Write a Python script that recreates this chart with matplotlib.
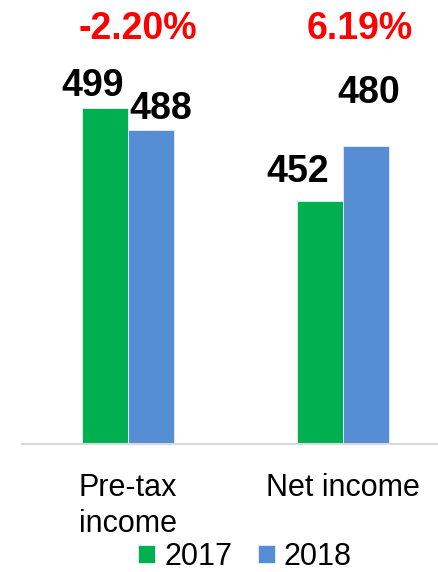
import matplotlib
matplotlib.use("Agg")
from matplotlib import pyplot as plt
import numpy as np

plt.rcParams['font.family'] = ['Liberation Sans', 'DejaVu Sans']

categories = ["Pre-tax\nincome", "Net income"]
years = ["2017", "2018"]
values_2017 = [499, 452]
values_2018 = [488, 480]
changes = ["-2.20%", "6.19%"]

# label offsets (points) relative to bar top centre, as in the original
offsets_2017 = [(-9, 3), (-16, 8)]
offsets_2018 = [(7, 2), (2, 25)]

green = "#00B050"
blue = "#558ED5"

W, H = 438, 572
fig = plt.figure(figsize=(W / 100, H / 100), dpi=100)
ax = fig.add_axes([22 / W, (H - 444) / H, (438 - 22) / W, (444 - 20) / H])

x = np.arange(len(categories))
w = 0.214
b1 = ax.bar(x - w / 2, values_2017, w, color=green, edgecolor="#e8f5ec", linewidth=0.6, label=years[0])
b2 = ax.bar(x + w / 2, values_2018, w, color=blue, edgecolor="#e6eef9", linewidth=0.6, label=years[1])

ax.set_ylim(330, 330 + (444 - 20) / 1.988)
ax.set_xlim(-0.493, 1.442)

for bars, vals, offs in [(b1, values_2017, offsets_2017), (b2, values_2018, offsets_2018)]:
    for r, v, o in zip(bars, vals, offs):
        ax.annotate(str(v), (r.get_x() + r.get_width() / 2, r.get_height()),
                    xytext=o, textcoords="offset points", ha="center", va="bottom",
                    fontsize=27, fontweight="bold", color="black")

for xi, c, dx in zip(x, changes, [10, 17]):
    ax.annotate(c, (xi, 1), xycoords=("data", "axes fraction"), xytext=(dx * 0.72, -14),
                textcoords="offset points", ha="center", va="baseline",
                fontsize=27, fontweight="bold", color="#FF0000")

for s in ["top", "right", "left"]:
    ax.spines[s].set_visible(False)
ax.spines["bottom"].set_color("#D9D9D9")
ax.spines["bottom"].set_linewidth(1.5)
ax.set_yticks([])
ax.set_xticks(x)
ax.set_xticklabels(categories, fontsize=22, linespacing=1.27)
ax.tick_params(axis="x", length=0, pad=21)

leg = fig.legend(handles=[b1, b2], labels=years, loc="lower center",
                 bbox_to_anchor=(245 / W, 0.0), ncol=2, frameon=False, fontsize=22,
                 borderpad=0, borderaxespad=0, handlelength=0.55, handleheight=0.55,
                 handletextpad=0.3, columnspacing=0.85)

fig.savefig("out.png", dpi=100)
